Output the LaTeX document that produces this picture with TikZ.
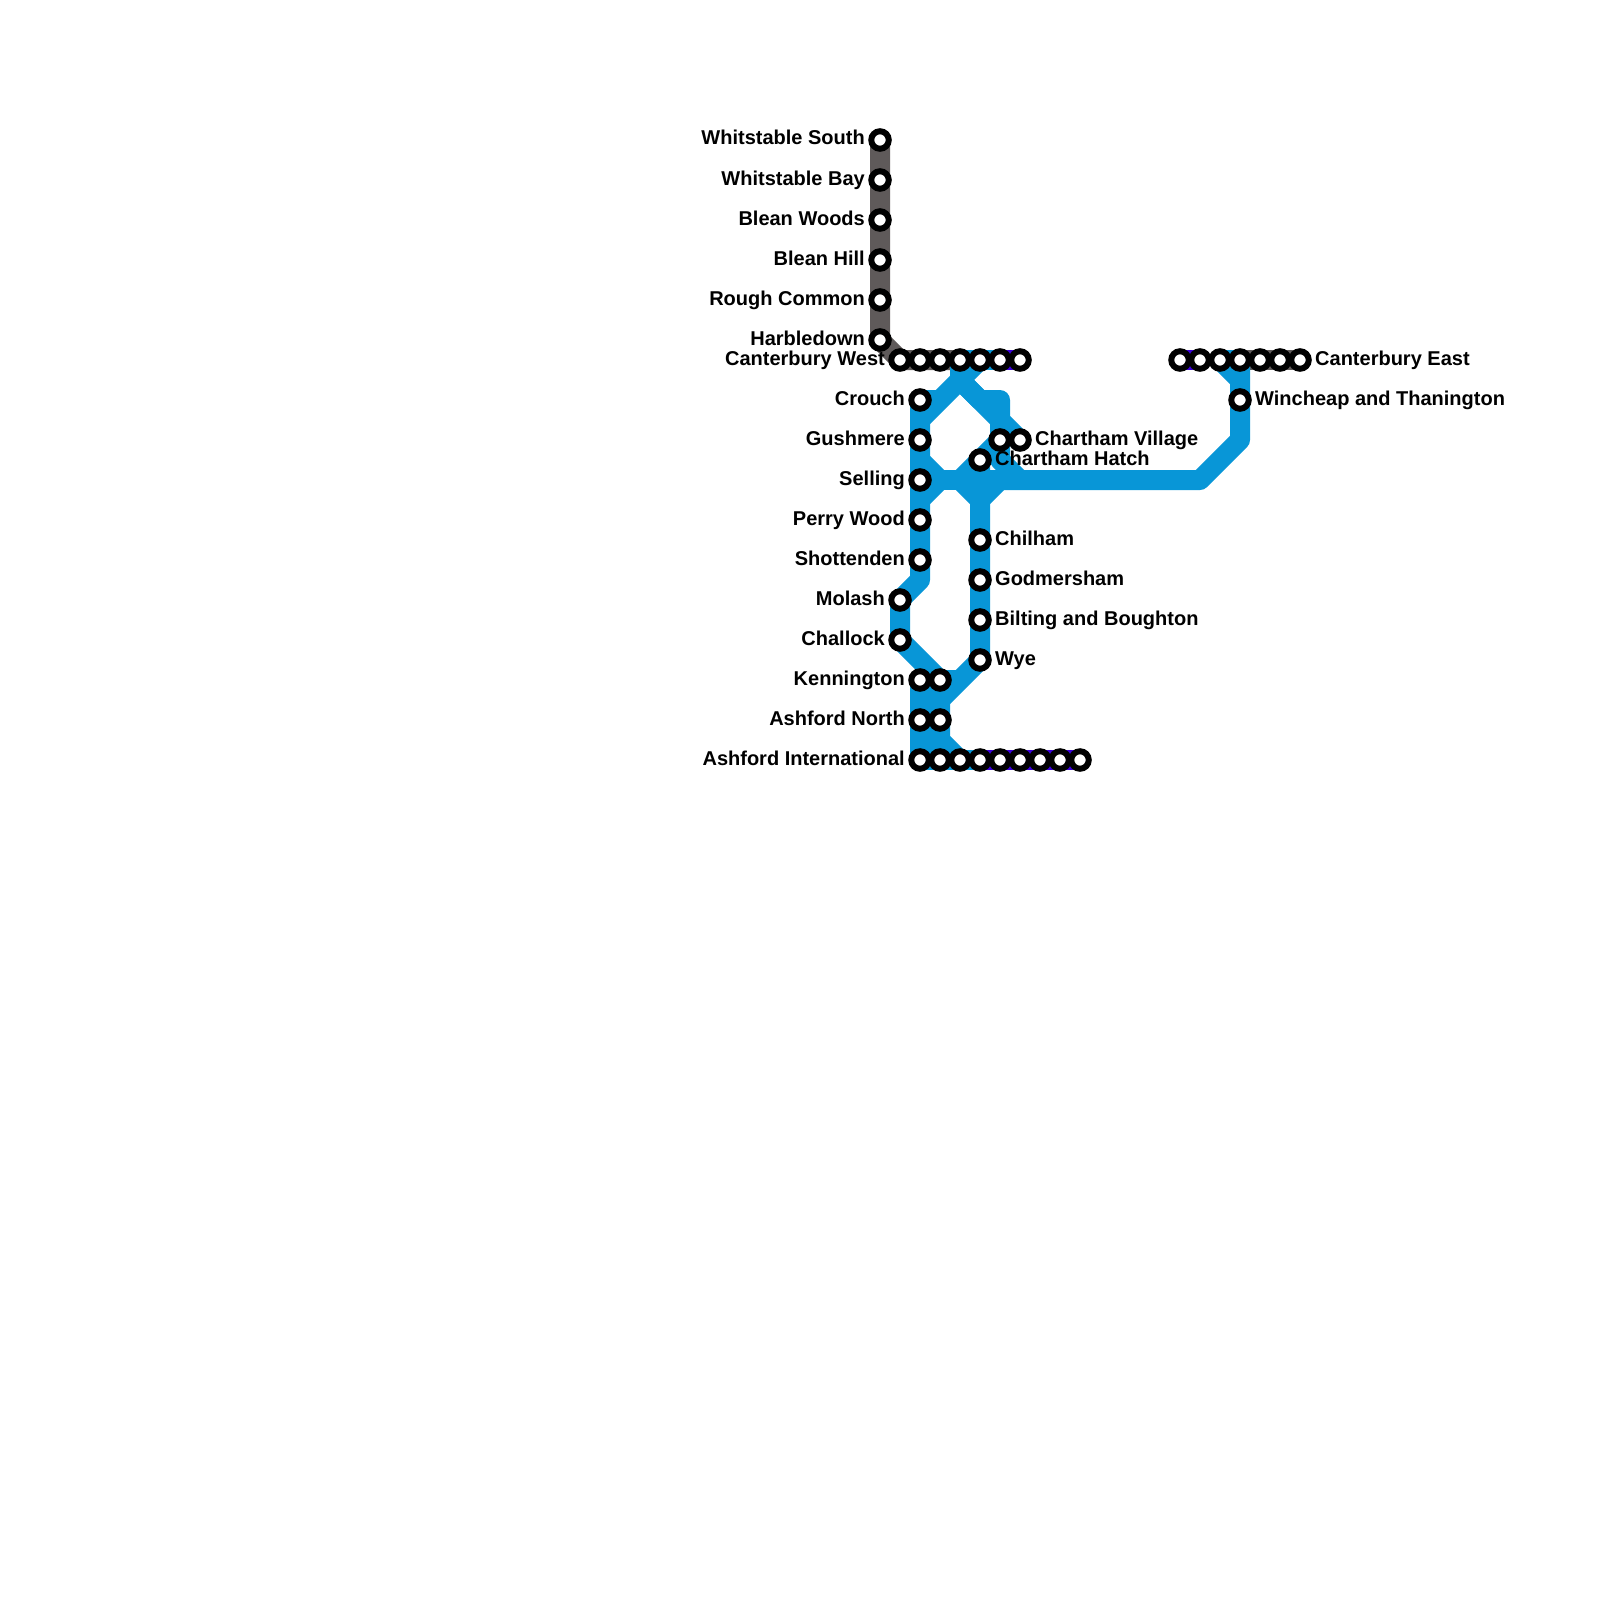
\documentclass[tikz,border=0pt]{standalone}
\usepackage{fontspec}
\setmainfont{Liberation Sans}
\usetikzlibrary{backgrounds}
\definecolor{lblue}{HTML}{0896D7}
\definecolor{lgray}{HTML}{5F5A5A}
\definecolor{lpurple}{HTML}{3A00D8}
\tikzset{
  stn/.style={circle,draw=black,fill=white,line width=6pt,minimum size=17.5pt,inner sep=0pt},
  lblL/.style={anchor=base east,inner sep=0pt,font=\bfseries\fontsize{20}{20}\selectfont,text=black},
  lblR/.style={anchor=base west,inner sep=0pt,font=\bfseries\fontsize{20}{20}\selectfont,text=black},
  trk/.style={line width=20pt,line join=round,line cap=butt},
  blue line/.style={trk,draw=lblue},
  gray line/.style={trk,draw=lgray},
  purple line/.style={trk,draw=lpurple},
}
\newcommand{\stL}[4]{\node[stn] (#1) at (#2,#3) {}; \node[lblL] (#1l) at ([xshift=-15pt,yshift=-5pt]#1.center) {#4};}
\newcommand{\stR}[4]{\node[stn] (#1) at (#2,#3) {}; \node[lblR] (#1l) at ([xshift=15pt,yshift=-5pt]#1.center) {#4};}
\newcommand{\stN}[3]{\node[stn] (#1) at (#2,#3) {};}
\begin{document}
\begin{tikzpicture}[x=1pt,y=-1pt]
\useasboundingbox (0,0) rectangle (1600,1600);
% whitstable branch
\stL{ws}{880}{140}{Whitstable South}
\stL{wb}{880}{180}{Whitstable Bay}
\stL{bw}{880}{220}{Blean Woods}
\stL{bh}{880}{260}{Blean Hill}
\stL{rc}{880}{300}{Rough Common}
\stL{hb}{880}{340}{Harbledown}
% canterbury west row
\stL{cw}{900}{360}{Canterbury West}
\stN{cw2}{920}{360}
\stN{cw3}{940}{360}
\stN{cw4}{960}{360}
\stN{cw5}{980}{360}
\stN{cw6}{1000}{360}
\stN{cw7}{1020}{360}
% left column
\stL{cr}{920}{400}{Crouch}
\stL{gu}{920}{440}{Gushmere}
\stL{se}{920}{480}{Selling}
\stL{pw}{920}{520}{Perry Wood}
\stL{sh}{920}{560}{Shottenden}
\stL{mo}{900}{600}{Molash}
\stL{ch}{900}{640}{Challock}
\stL{ke}{920}{680}{Kennington}
\stN{ke2}{940}{680}
\stL{an}{920}{720}{Ashford North}
\stN{an2}{940}{720}
% ashford row
\stL{ai}{920}{760}{Ashford International}
\stN{ai2}{940}{760}
\stN{ai3}{960}{760}
\stN{ai4}{980}{760}
\stN{ai5}{1000}{760}
\stN{ai6}{1020}{760}
\stN{ai7}{1040}{760}
\stN{ai8}{1060}{760}
\stN{ai9}{1080}{760}
% middle column
\stR{cv}{1020}{440}{Chartham Village}
\stN{cv2}{1000}{440}
\stR{ct}{980}{460}{Chartham Hatch}
\stR{cl}{980}{540}{Chilham}
\stR{go}{980}{580}{Godmersham}
\stR{bb}{980}{620}{Bilting and Boughton}
\stR{wy}{980}{660}{Wye}
% east row
\stN{ce1}{1180}{360}
\stN{ce2}{1200}{360}
\stN{ce3}{1220}{360}
\stN{ce4}{1240}{360}
\stN{ce5}{1260}{360}
\stN{ce6}{1280}{360}
\stR{ce}{1300}{360}{Canterbury East}
\stR{wi}{1240}{400}{Wincheap and Thanington}
% bend points
\coordinate (tj) at (960,380);
\coordinate (ca) at (920,420);
\coordinate (cb) at (940,400);
\coordinate (rb) at (980,400);
\coordinate (rc2) at (1000,400);
\coordinate (rd) at (1000,420);
\coordinate (hub) at (960,480);
\coordinate (hr) at (1000,480);
\coordinate (hs) at (980,500);
\coordinate (hl) at (940,480);
\coordinate (gb) at (920,460);
\coordinate (vb) at (1000,460);
\coordinate (vc) at (1020,480);
\coordinate (el) at (1200,480);
\coordinate (er) at (1240,440);
\coordinate (sl) at (920,500);
\coordinate (sm) at (920,580);
\coordinate (ej) at (1240,380);
\coordinate (kn) at (960,680);
\coordinate (an3) at (940,740);
\coordinate (mt) at (930,685);
\coordinate (mb) at (930,760);
\begin{pgfonlayer}{background}
\draw[purple line] (ai4.center) -- (ai9.center);
\draw[purple line] (cw6.center) -- (cw7.center);
\draw[purple line] (ce1.center) -- (ce2.center);
\draw[gray line] (ws.center) -- (hb.center) -- (cw.center) -- (cw4.center);
\draw[gray line] (ce4.center) -- (ce.center);
% blue network
\draw[blue line] (cw4.center) -- (cw6.center);
\draw[blue line] (cw4.center) -- (tj);
\draw[blue line] (cw5.center) -- (tj) -- (ca);
\draw[blue line] (cr.center) -- (cb);
\draw[blue line] (tj) -- (rb) -- (rc2) -- (rd) -- (cv.center);
\draw[blue line] (tj) -- (rd) -- (cv2.center) -- (hub);
\draw[blue line] (cv2.center) -- (vb) -- (vc);
\draw[blue line] (cr.center) -- (sm) -- (mo.center) -- (ch.center) -- (ke2.center);
\draw[blue line] (ke.center) -- (ai.center);
\draw[blue line] (gb) -- (hl);
\draw[blue line] (se.center) -- (hub);
\draw[blue line] (sl) -- (hl);
\draw[blue line] (hub) -- (hs);
\draw[blue line] (hs) -- (hr);
\draw[blue line] (hub) -- (el) -- (er) -- (ce4.center);
\draw[blue line] (ce3.center) -- (ej);
\draw[blue line] (ce3.center) -- (ce4.center);
\draw[blue line] (ct.center) -- (wy.center) -- (kn) -- (an.center);
\draw[blue line] (ke.center) -- (kn);
\draw[blue line] (ke2.center) -- (an3) -- (ai3.center);
\draw[blue line] (mt) -- (mb);
\draw[blue line] (ai.center) -- (ai4.center);
\end{pgfonlayer}
\end{tikzpicture}
\end{document}
